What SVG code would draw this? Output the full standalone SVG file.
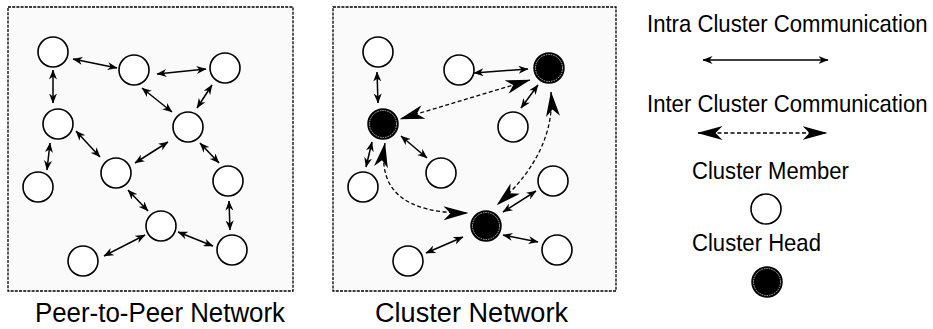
<svg xmlns="http://www.w3.org/2000/svg" width="933" height="329" viewBox="0 0 933 329">
<style>
.panel{fill:#fafafa;stroke:#000;stroke-width:1.3;stroke-dasharray:3 1.2}
.mem{fill:#fff;stroke:#000;stroke-width:1.6}
.head{fill:#000;stroke:#000;stroke-width:1.5}
.ring{fill:none;stroke:#fff;stroke-width:0.7;stroke-dasharray:1.5 1}
.intra{fill:none;stroke:#000;stroke-width:1.5;marker-start:url(#sa);marker-end:url(#sa)}
.inter{fill:none;stroke:#000;stroke-width:1.3;stroke-dasharray:4 2.5;marker-start:url(#ba);marker-end:url(#ba)}
text{font-family:"Liberation Sans",Arial,sans-serif;fill:#000}
.lg{font-size:24px}
.cap{font-size:27px}
</style>
<defs>
<marker id="sa" viewBox="0 0 10 8" markerWidth="10" markerHeight="8" refX="9.5" refY="4" markerUnits="userSpaceOnUse" orient="auto-start-reverse">
<path d="M0,0 L10,4 L0,8 L3,4 z" fill="#000"/>
</marker>
<marker id="ba" viewBox="0 0 25 14" markerWidth="25" markerHeight="14" refX="24.5" refY="7" markerUnits="userSpaceOnUse" orient="auto-start-reverse">
<path d="M0,0 L25,7 L0,14 L7,7 z" fill="#000"/>
</marker>
</defs>

<rect class="panel" x="8" y="7" width="285" height="284"/>
<rect class="panel" x="333" y="7" width="283" height="284"/>

<g id="connectors">
<line class="intra" x1="73" y1="59" x2="117" y2="68"/>
<line class="intra" x1="157" y1="74" x2="206" y2="69"/>
<line class="intra" x1="53" y1="70" x2="53" y2="103"/>
<line class="intra" x1="142" y1="88" x2="172" y2="112"/>
<line class="intra" x1="212" y1="85" x2="197" y2="108"/>
<line class="intra" x1="50" y1="143" x2="47" y2="170"/>
<line class="intra" x1="76" y1="131" x2="100" y2="157"/>
<line class="intra" x1="168" y1="142" x2="135" y2="163"/>
<line class="intra" x1="200" y1="143" x2="219" y2="163"/>
<line class="intra" x1="128" y1="190" x2="148" y2="211"/>
<line class="intra" x1="229" y1="201" x2="230" y2="230"/>
<line class="intra" x1="178" y1="232" x2="213" y2="246"/>
<line class="intra" x1="145" y1="235" x2="104" y2="256"/>

<line class="intra" x1="377" y1="72" x2="378" y2="103"/>
<line class="intra" x1="474" y1="73" x2="528" y2="69"/>
<line class="intra" x1="538" y1="85" x2="521" y2="108"/>
<line class="intra" x1="372" y1="142" x2="366" y2="167"/>
<line class="intra" x1="401" y1="136" x2="427" y2="158"/>
<line class="intra" x1="536" y1="191" x2="503" y2="212"/>
<line class="intra" x1="503" y1="235" x2="538" y2="242"/>
<line class="intra" x1="463" y1="237" x2="426" y2="253"/>
<line class="inter" x1="530" y1="80" x2="400" y2="119"/>
<path class="inter" d="M551,92 Q556,152 497,205"/>
<path class="inter" d="M385,143 Q373,214 468,213"/>

<line class="intra" x1="703" y1="60" x2="828" y2="60"/>
<line class="inter" x1="698" y1="133" x2="827" y2="133"/>
</g>

<g id="p2p-n1"><circle class="mem" cx="53" cy="52" r="15"/></g>
<g id="p2p-n2"><circle class="mem" cx="134" cy="70" r="15"/></g>
<g id="p2p-n3"><circle class="mem" cx="225" cy="68" r="15"/></g>
<g id="p2p-n4"><circle class="mem" cx="58" cy="124" r="15"/></g>
<g id="p2p-n5"><circle class="mem" cx="188" cy="127" r="15"/></g>
<g id="p2p-n6"><circle class="mem" cx="38" cy="187" r="15"/></g>
<g id="p2p-n7"><circle class="mem" cx="116" cy="173" r="15"/></g>
<g id="p2p-n8"><circle class="mem" cx="228" cy="181" r="15"/></g>
<g id="p2p-n9"><circle class="mem" cx="161" cy="226" r="15"/></g>
<g id="p2p-n10"><circle class="mem" cx="232" cy="250" r="15"/></g>
<g id="p2p-n11"><circle class="mem" cx="83" cy="261" r="15"/></g>

<g id="cl-a"><circle class="mem" cx="378" cy="52" r="15"/></g>
<g id="cl-b"><circle class="mem" cx="459" cy="70" r="15"/></g>
<g id="cl-c"><circle class="head" cx="549" cy="68" r="15"/><circle class="ring" cx="549" cy="68" r="13.5"/></g>
<g id="cl-d"><circle class="head" cx="383" cy="124" r="15"/><circle class="ring" cx="383" cy="124" r="13.5"/></g>
<g id="cl-e"><circle class="mem" cx="513" cy="127" r="15"/></g>
<g id="cl-f"><circle class="mem" cx="363" cy="187" r="15"/></g>
<g id="cl-g"><circle class="mem" cx="441" cy="173" r="15"/></g>
<g id="cl-h"><circle class="mem" cx="553" cy="181" r="15"/></g>
<g id="cl-i"><circle class="head" cx="486" cy="226" r="15"/><circle class="ring" cx="486" cy="226" r="13.5"/></g>
<g id="cl-j"><circle class="mem" cx="557" cy="250" r="15"/></g>
<g id="cl-k"><circle class="mem" cx="408" cy="261" r="15"/></g>

<g id="legend">
<text class="lg" transform="translate(647,31.5) scale(0.923,1)">Intra Cluster Communication</text>
<text class="lg" transform="translate(647,111.5) scale(0.923,1)">Inter Cluster Communication</text>
<text class="lg" transform="translate(692,179) scale(0.92,1)">Cluster Member</text>
<circle class="mem" cx="766" cy="209" r="15"/>
<text class="lg" transform="translate(692,251) scale(0.921,1)">Cluster Head</text>
<circle class="head" cx="767" cy="282" r="15"/><circle class="ring" cx="767" cy="282" r="13.5"/>
</g>

<g id="captions">
<text class="cap" x="35" y="321.5" textLength="250" lengthAdjust="spacingAndGlyphs">Peer-to-Peer Network</text>
<text class="cap" x="375" y="321.5" textLength="193" lengthAdjust="spacingAndGlyphs">Cluster Network</text>
</g>
</svg>
